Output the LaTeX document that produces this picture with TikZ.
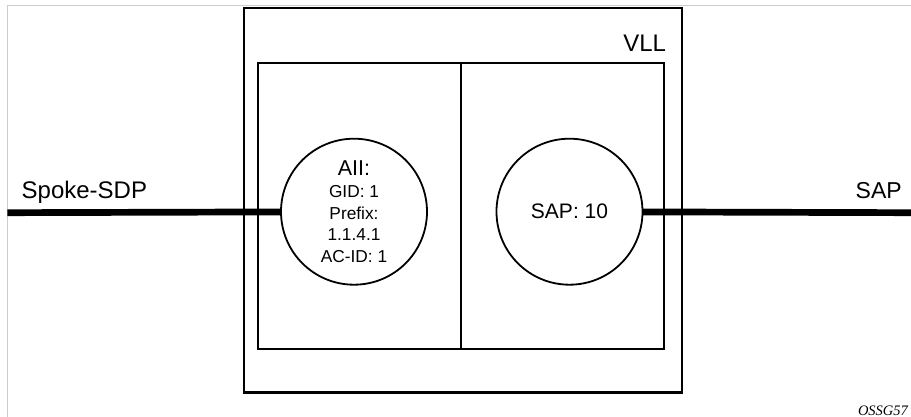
\documentclass[tikz,border=0pt]{standalone}
\usepackage{fontspec}
\setmainfont{Liberation Sans}
\newfontfamily\figfont{Liberation Serif}
\usepackage{tikz}

\begin{document}
\begin{tikzpicture}[x=1pt, y=-1pt,
  box/.style={draw, line width=2.5pt, inner sep=0pt, outer sep=0pt},
  port/.style={draw, circle, line width=1.8pt, minimum size=146pt, inner sep=0pt, outer sep=0pt, align=center},
  wire/.style={line width=6.7pt},
  lbl/.style={inner sep=0pt, outer sep=0pt}]
 \useasboundingbox (0,0) rectangle (911,417);
 \draw[black!20, line width=1pt] (7.3,417) -- (7.3,5.7) -- (911,5.7);
 % service box and its two halves
 \node[box, minimum width=438, minimum height=384.7] (vll) at (463,200.35) {};
 \node[box, minimum width=406, minimum height=286] (inner) at (461,206) {};
 \draw[line width=2.5pt] (inner.north) -- (inner.south);
 \node[lbl, anchor=base east, font=\fontsize{24}{28}\selectfont] (vll label) at (666,51.7) {VLL};
 % endpoints
 \node[port, font=\fontsize{17.3}{21.7}\selectfont] (aii) at (354,211.7)
  {{\fontsize{21.5}{22.3}\selectfont AII:}\\GID: 1\\Prefix:\\1.1.4.1\\AC-ID: 1};
 \node[port, font=\fontsize{21}{25}\selectfont] (sap) at (569.5,211.7) {SAP: 10};
 \coordinate (sdp end) at (7.3,212.7);
 \coordinate (sap end) at (911,212.7);
 \draw[wire] (sdp end) -- (aii);
 \draw[wire] (sap) -- (sap end);
 \node[lbl, anchor=base west, font=\fontsize{24}{28}\selectfont] (sdp label) at (21.7,198.3) {Spoke-SDP};
 \node[lbl, anchor=base east, font=\fontsize{23}{27}\selectfont] (sap label) at (901.7,198.3) {SAP};
 \node[lbl, anchor=base west, font=\figfont\itshape\fontsize{14.5}{17}\selectfont] (fig id) at (858,415) {OSSG57};
\end{tikzpicture}
\end{document}
